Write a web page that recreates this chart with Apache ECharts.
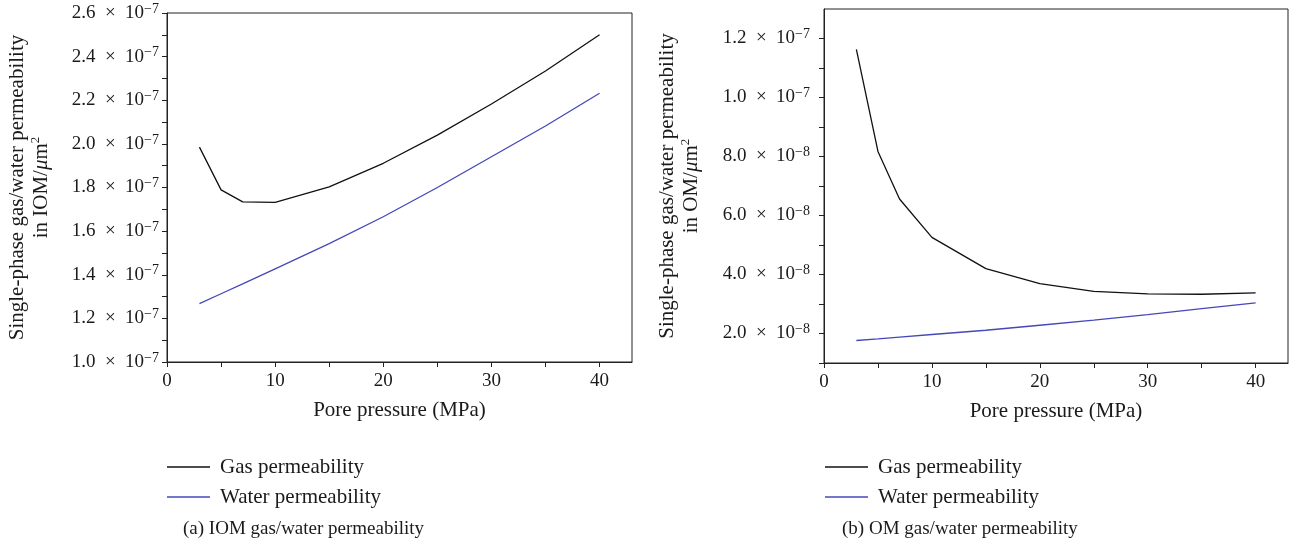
<!DOCTYPE html>
<html>
<head>
<meta charset="utf-8">
<script src="https://cdn.jsdelivr.net/npm/echarts@6/dist/echarts.min.js"></script>
<style>
  html, body { margin: 0; padding: 0; background: #fff; }
  #main { width: 1296px; height: 547px; }
</style>
</head>
<body>
<div id="main"></div>
<script>
// pore pressure (MPa)
var pressure = [3, 5, 7, 10, 15, 20, 25, 30, 35, 40];

// (a) IOM
var iomGas = [1.985e-7, 1.789e-7, 1.734e-7, 1.732e-7, 1.803e-7, 1.911e-7, 2.040e-7, 2.183e-7, 2.334e-7, 2.500e-7];
var iomWater = [1.268e-7, 1.313e-7, 1.358e-7, 1.427e-7, 1.543e-7, 1.666e-7, 1.800e-7, 1.941e-7, 2.082e-7, 2.232e-7];

// (b) OM
var omGas = [1.163e-7, 8.17e-8, 6.56e-8, 5.26e-8, 4.20e-8, 3.69e-8, 3.43e-8, 3.34e-8, 3.33e-8, 3.38e-8];
var omWater = [1.763e-8, 1.82e-8, 1.88e-8, 1.966e-8, 2.11e-8, 2.28e-8, 2.45e-8, 2.64e-8, 2.84e-8, 3.04e-8];

// ticks
var xLabels = [0, 10, 20, 30, 40];
var xTicks = [0, 5, 10, 15, 20, 25, 30, 35, 40];
var iomYLabels = [1.0e-7, 1.2e-7, 1.4e-7, 1.6e-7, 1.8e-7, 2.0e-7, 2.2e-7, 2.4e-7, 2.6e-7];
var iomYTicks = [1.0e-7, 1.1e-7, 1.2e-7, 1.3e-7, 1.4e-7, 1.5e-7, 1.6e-7, 1.7e-7, 1.8e-7, 1.9e-7, 2.0e-7, 2.1e-7, 2.2e-7, 2.3e-7, 2.4e-7, 2.5e-7, 2.6e-7];
var omYLabels = [2e-8, 4e-8, 6e-8, 8e-8, 1.0e-7, 1.2e-7];
var omYTicks = [1e-8, 2e-8, 3e-8, 4e-8, 5e-8, 6e-8, 7e-8, 8e-8, 9e-8, 1.0e-7, 1.1e-7, 1.2e-7];

var seriesNames = ['Gas permeability', 'Water permeability'];
var captions = ['(a) IOM gas/water permeability', '(b) OM gas/water permeability'];

var FONT = "'Liberation Serif', 'DejaVu Serif', serif";
var TXT = '#1a1a1a';
var BLUE = '#4548b8';

function pairs(xs, ys) {
	var res = [];
	for (var i = 0; i < xs.length; i++) {
		res.push([xs[i], ys[i]]);
	}
	return res;
}

// 2.6 × 10^-7 style label
function sci(v) {
	var e = Math.floor(Math.log10(v) + 1e-9);
	var m = (v / Math.pow(10, e)).toFixed(1);
	return '{m|' + m + '\u2002×\u200210}{e|−' + (-e) + '}';
}

function xAxisOf(idx) {
	return {
		type: 'value',
		gridIndex: idx,
		min: 0,
		max: 43,
		name: 'Pore pressure (MPa)',
		nameLocation: 'middle',
		nameGap: 38,
		nameTextStyle: { fontFamily: FONT, fontSize: 21, color: TXT },
		axisLine: { lineStyle: { color: '#222', width: 1 } },
		axisTick: { customValues: xTicks, length: 5, lineStyle: { color: '#222' } },
		axisLabel: {
			customValues: xLabels,
			margin: 10,
			fontFamily: FONT, fontSize: 19, color: TXT
		},
		splitLine: { show: false }
	};
}

function yAxisOf(idx, min, max, ticks, labels, nameRich, gap, margin) {
	return {
		type: 'value',
		gridIndex: idx,
		min: min,
		max: max,
		name: nameRich,
		nameLocation: 'middle',
		nameGap: gap,
		nameRotate: 90,
		nameTextStyle: {
			fontFamily: FONT, fontSize: 21, color: TXT, lineHeight: 24,
			rich: {
				i: { fontFamily: FONT, fontSize: 21, fontStyle: 'italic', color: TXT },
				s: { fontFamily: FONT, fontSize: 13, color: TXT, verticalAlign: 'top', lineHeight: 24 }
			}
		},
		axisLine: { show: true, lineStyle: { color: '#222', width: 1 } },
		axisTick: { customValues: ticks, length: 5, lineStyle: { color: '#222' } },
		axisLabel: {
			customValues: labels,
			margin: margin,
			formatter: sci,
			rich: {
				m: { fontFamily: FONT, fontSize: 19, color: TXT, lineHeight: 22 },
				e: { fontFamily: FONT, fontSize: 14, color: TXT, verticalAlign: 'top', lineHeight: 14 }
			}
		},
		splitLine: { show: false }
	};
}

function lineSeries(name, idx, data, color) {
	return {
		name: name,
		type: 'line',
		xAxisIndex: idx,
		yAxisIndex: idx,
		data: data,
		symbol: 'none',
		smooth: false,
		lineStyle: { color: color, width: 1.3 },
		itemStyle: { color: color },
		animation: false
	};
}

function legendOf(left) {
	return {
		left: left,
		top: 450,
		orient: 'vertical',
		icon: 'rect',
		itemWidth: 43,
		itemHeight: 1.3,
		itemGap: 6,
		data: seriesNames,
		selectedMode: false,
		textStyle: { fontFamily: FONT, fontSize: 21, color: TXT, lineHeight: 24, padding: [0, 0, 0, 5] }
	};
}

var chart = echarts.init(document.getElementById('main'));

var option = {
	backgroundColor: '#fff',
	animation: false,
	title: [
		{ text: captions[0], left: 178, top: 515, textStyle: { fontFamily: FONT, fontSize: 19, fontWeight: 'normal', color: TXT } },
		{ text: captions[1], left: 837, top: 515, textStyle: { fontFamily: FONT, fontSize: 19, fontWeight: 'normal', color: TXT } }
	],
	legend: [legendOf(162), legendOf(820)],
	grid: [
		{ left: 167, top: 13, width: 465, height: 349, show: true, borderColor: '#222', borderWidth: 1 },
		{ left: 824, top: 9, width: 464, height: 354, show: true, borderColor: '#222', borderWidth: 1 }
	],
	xAxis: [xAxisOf(0), xAxisOf(1)],
	yAxis: [
		yAxisOf(0, 1.0e-7, 2.6e-7, iomYTicks, iomYLabels,
			'Single-phase gas/water permeability\nin IOM/{i|μ}m{s|2}', 114, 8),
		yAxisOf(1, 1.0e-8, 1.3e-7, omYTicks, omYLabels,
			'Single-phase gas/water permeability\nin OM/{i|μ}m{s|2}', 121, 14)
	],
	series: [
		lineSeries(seriesNames[0], 0, pairs(pressure, iomGas), '#111'),
		lineSeries(seriesNames[1], 0, pairs(pressure, iomWater), BLUE),
		lineSeries(seriesNames[0], 1, pairs(pressure, omGas), '#111'),
		lineSeries(seriesNames[1], 1, pairs(pressure, omWater), BLUE)
	]
};

chart.setOption(option);
</script>
</body>
</html>
